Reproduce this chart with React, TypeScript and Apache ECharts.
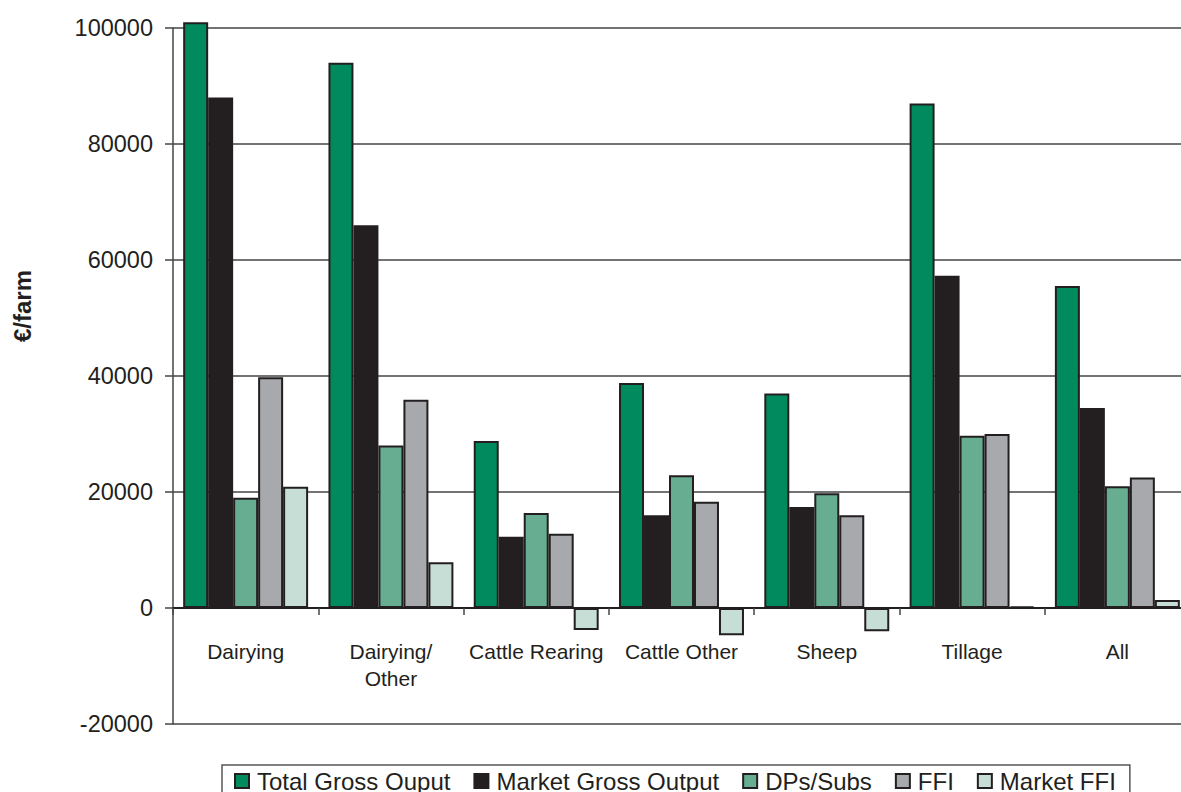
import React, { useEffect, useRef } from "react";
import * as echarts from "echarts";

const categories = ["Dairying", "Dairying/\nOther", "Cattle Rearing", "Cattle Other", "Sheep", "Tillage", "All"];
const seriesNames = ["Total Gross Ouput", "Market Gross Output", "DPs/Subs", "FFI", "Market FFI"];
const totalGrossOutput = [101000, 94000, 28800, 38800, 37000, 87000, 55500];
const marketGrossOutput = [88000, 66000, 12300, 16000, 17400, 57300, 34500];
const dpsSubs = [19000, 28000, 16400, 22900, 19800, 29700, 21000];
const ffi = [39800, 35900, 12800, 18300, 16000, 30000, 22500];
const marketFfi = [20900, 7900, -3800, -4700, -4000, 300, 1400];
const colors = ["#008a5e", "#231f20", "#66ad91", "#a7a9ac", "#c6ded5"];

export default function App() {
  const ref = useRef<HTMLDivElement>(null);
  useEffect(() => {
    if (!ref.current) return;
    const chart = echarts.init(ref.current, undefined, { renderer: "svg" });
    const values = [totalGrossOutput, marketGrossOutput, dpsSubs, ffi, marketFfi];
    const font = "'Liberation Sans', Arial, sans-serif";
    chart.setOption({
      animation: false,
      textStyle: { fontFamily: font, color: "#231f20" },
      grid: { left: 173, top: 28, width: 1017, bottom: 68, containLabel: false, outerBoundsMode: "none" },
      legend: {
        left: 222,
        top: 765,
        padding: [4, 14, 8, 12],
        borderColor: "#555",
        borderWidth: 1.5,
        itemWidth: 14,
        itemHeight: 14,
        itemGap: 23,
        icon: "rect",
        itemStyle: { borderColor: "#231f20", borderWidth: 2 },
        textStyle: { fontSize: 24, color: "#231f20", fontFamily: font, padding: [0, 0, 0, 3] },
        data: seriesNames,
      },
      graphic: [
        {
          type: "text",
          x: 22,
          y: 306,
          rotation: Math.PI / 2,
          style: {
            text: "€/farm",
            fontSize: 24,
            fontWeight: "bold",
            fontFamily: font,
            fill: "#231f20",
            textAlign: "center",
            textVerticalAlign: "middle",
          },
        },
      ],
      xAxis: {
        type: "category",
        data: categories,
        offset: -116,
        axisLine: { onZero: false, lineStyle: { color: "#231f20", width: 2 } },
        axisTick: { show: true, length: 7, lineStyle: { color: "#444", width: 1.5 } },
        axisLabel: { fontSize: 21, color: "#231f20", margin: 30, lineHeight: 27, interval: 0 },
      },
      yAxis: {
        type: "value",
        min: -20000,
        max: 100000,
        interval: 20000,
        axisLine: { show: true, lineStyle: { color: "#444", width: 1.5 } },
        axisTick: { show: true, length: 8, lineStyle: { color: "#444", width: 1.5 } },
        axisLabel: { fontSize: 23.5, color: "#231f20", margin: 20, formatter: (v: number) => String(v) },
        splitLine: { show: true, lineStyle: { color: "#444", width: 1.5 } },
      },
      series: seriesNames.map((name, i) => ({
        name,
        type: "bar",
        data: values[i],
        barGap: "0%",
        barCategoryGap: "14%",
        clip: false,
        itemStyle: { color: colors[i], borderColor: "#231f20", borderWidth: 2 },
      })),
    });
    return () => chart.dispose();
  }, []);
  return (
    <div
      ref={ref}
      style={{ position: "absolute", left: 0, top: 0, width: 1181, height: 792, background: "#fff" }}
    />
  );
}
